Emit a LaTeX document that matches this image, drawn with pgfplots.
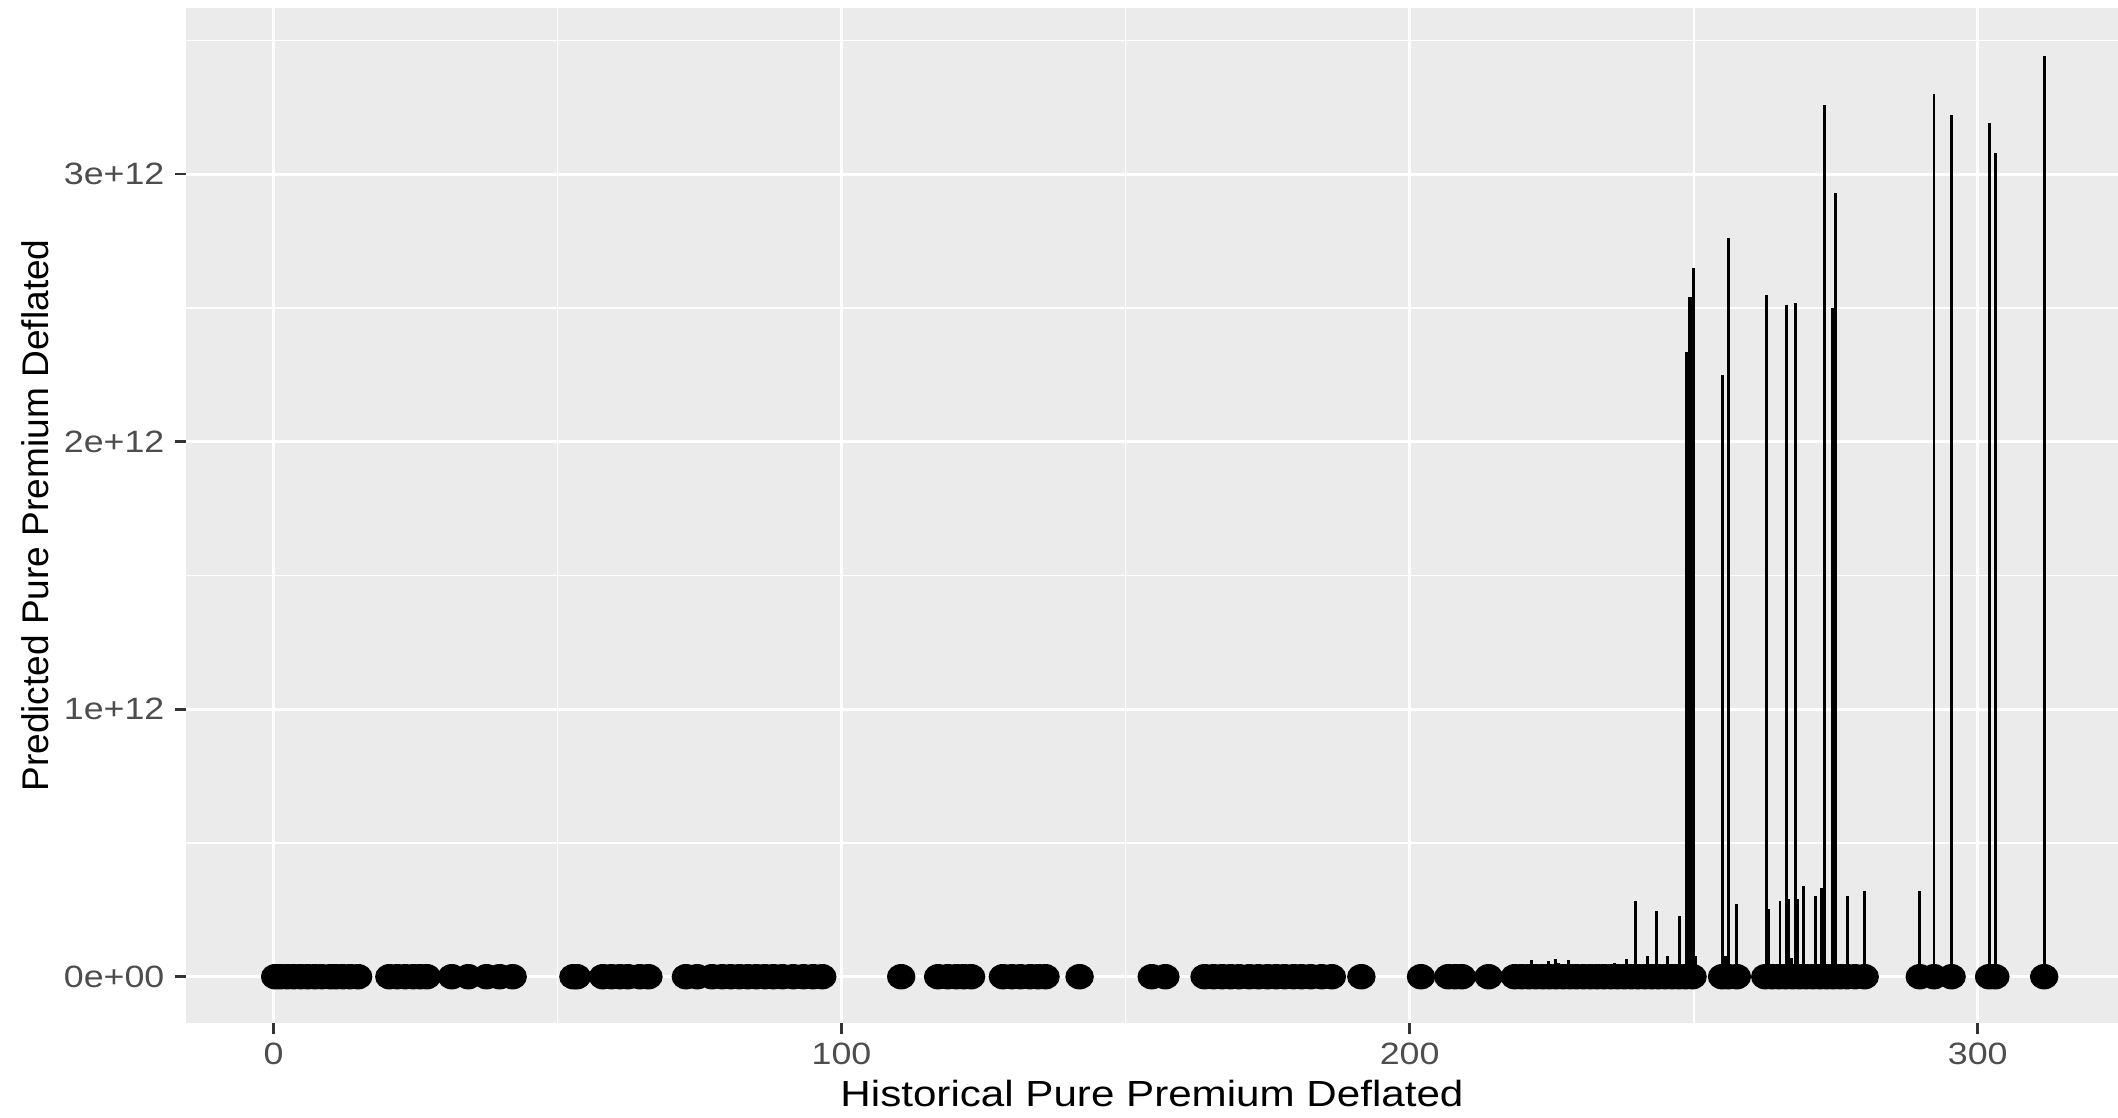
\documentclass[border=0pt]{standalone}
\usepackage{fontspec}
\setmainfont{Liberation Sans}[FakeStretch=1.16]
\newfontfamily\ylabfont{Liberation Sans}
\usepackage{pgfplots}
\usepackage{pgfplotstable}
\pgfplotsset{compat=1.18}

\definecolor{panel}{HTML}{EBEBEB}
\definecolor{ticktext}{HTML}{4D4D4D}
\definecolor{tickmark}{HTML}{333333}

% vertical segments: historical value vs predicted value
\pgfplotstableread{
x      y
213.8  0.030e12
219.5  0.035e12
221.4  0.061e12
222.6  0.040e12
224.4  0.059e12
225.6  0.065e12
226.2  0.050e12
228.0  0.061e12
230.5  0.030e12
234.5  0.035e12
236.1  0.050e12
238.2  0.065e12
239.8  0.283e12
241.9  0.076e12
243.5  0.245e12
245.4  0.076e12
247.5  0.226e12
248.75 2.335e12
249.2  2.540e12
249.55 2.540e12
250.0  2.650e12
250.4  0.076e12
255.0  2.250e12
255.6  0.076e12
256.1  2.760e12
257.6  0.273e12
262.8  2.550e12
263.2  0.254e12
265.2  0.283e12
266.3  2.510e12
266.7  0.290e12
267.3  0.070e12
267.9  2.520e12
268.2  0.290e12
269.4  0.338e12
271.4  0.300e12
272.5  0.330e12
273.0  3.260e12
274.4  2.500e12
274.7  2.500e12
275.0  2.930e12
277.0  0.300e12
280.1  0.320e12
289.8  0.320e12
292.3  3.300e12
295.4  3.220e12
302.0  3.190e12
303.1  3.080e12
311.7  3.440e12
}\spikes

% observed points
\pgfplotstableread{
x      y
0.3    0
1.2    0
2.4    0
3.6    0
4.8    0
6.0    0
7.3    0
8.5    0
10.0   0
11.0   0
12.2   0
13.5   0
14.9   0
20.4   0
21.8   0
23.2   0
24.6   0
25.8   0
27.0   0
31.4   0
34.3   0
37.5   0
39.8   0
42.1   0
52.8   0
53.4   0
58.0   0
59.5   0
61.0   0
62.4   0
64.5   0
66.0   0
72.6   0
74.6   0
77.2   0
79.0   0
80.5   0
82.0   0
83.5   0
85.0   0
86.5   0
88.0   0
89.6   0
91.5   0
93.3   0
95.0   0
96.6   0
110.5  0
117.0  0
118.7  0
120.2  0
121.5  0
122.8  0
128.4  0
130.0  0
131.5  0
133.2  0
134.6  0
135.9  0
141.9  0
154.6  0
157.0  0
163.9  0
165.5  0
167.0  0
168.5  0
170.0  0
171.8  0
173.4  0
175.0  0
176.5  0
178.0  0
179.6  0
181.0  0
182.6  0
184.5  0
186.3  0
191.5  0
202.0  0
206.8  0
208.0  0
209.2  0
213.9  0
218.5  0
219.7  0
221.0  0
222.2  0
223.4  0
224.6  0
225.8  0
227.0  0
228.2  0
229.4  0
230.6  0
231.8  0
233.0  0
234.2  0
235.4  0
236.6  0
237.8  0
239.0  0
240.2  0
241.4  0
242.6  0
243.8  0
245.0  0
246.2  0
247.4  0
248.6  0
249.8  0
255.0  0
256.1  0
257.6  0
262.6  0
263.8  0
265.0  0
266.2  0
267.4  0
268.6  0
269.8  0
271.0  0
272.2  0
273.4  0
274.6  0
275.8  0
277.0  0
278.4  0
280.1  0
289.8  0
292.3  0
295.4  0
302.0  0
303.1  0
311.7  0
}\points

\begin{document}
\begin{tikzpicture}
\begin{axis}[
  name=ax,
  scale only axis,
  width=463.68bp, height=243.6bp,
  xmin=-15.4, xmax=324.7,
  ymin=-0.173e12, ymax=3.621e12,
  axis background/.style={fill=panel},
  axis line style={draw=none},
  grid=both,
  major grid style={white, line width=0.7bp},
  minor grid style={white, line width=0.4bp},
  xtick={0,100,200,300}, xticklabels={0,100,200,300},
  minor xtick={50,150,250},
  ytick={0,1e12,2e12,3e12}, yticklabels={0e+00,1e+12,2e+12,3e+12},
  minor ytick={0.5e12,1.5e12,2.5e12,3.5e12},
  xtick pos=lower, ytick pos=left,
  tick align=outside,
  major tick length=2.6bp, minor tick length=0pt,
  tick style={color=tickmark, line width=0.65bp},
  /pgf/number format/assume math mode=true,
  ticklabel style={font=\fontsize{7.4bp}{8bp}\selectfont, text=ticktext, inner sep=0pt},
  yticklabel style={anchor=east, xshift=-2.4bp},
  xticklabel style={anchor=north, yshift=-2.0bp},
  xlabel={Historical Pure Premium Deflated},
  ylabel={Predicted Pure Premium Deflated},
  xlabel style={font=\fontsize{8.72bp}{10bp}\selectfont, inner sep=0pt,
    at={(axis description cs:0.5,-0.0825)}, anchor=base},
  ylabel style={font=\ylabfont\fontsize{8.9bp}{10bp}\selectfont, inner sep=0pt,
    at={(axis description cs:-0.0714,0.5)}, anchor=base},
  clip=true,
]
\addplot[ycomb, black, line width=0.7bp, no marks] table[x=x, y=y] {\spikes};
\addplot[only marks, mark=*, black, mark size=2.85bp,
  mark options={xscale=1.13, draw=black, fill=black}] table[x=x, y=y] {\points};
\end{axis}
\pgfresetboundingbox
\path (ax.south west) ++(-44.64bp,-22.8bp) rectangle ++(508.32bp,268.32bp);
\end{tikzpicture}
\end{document}
